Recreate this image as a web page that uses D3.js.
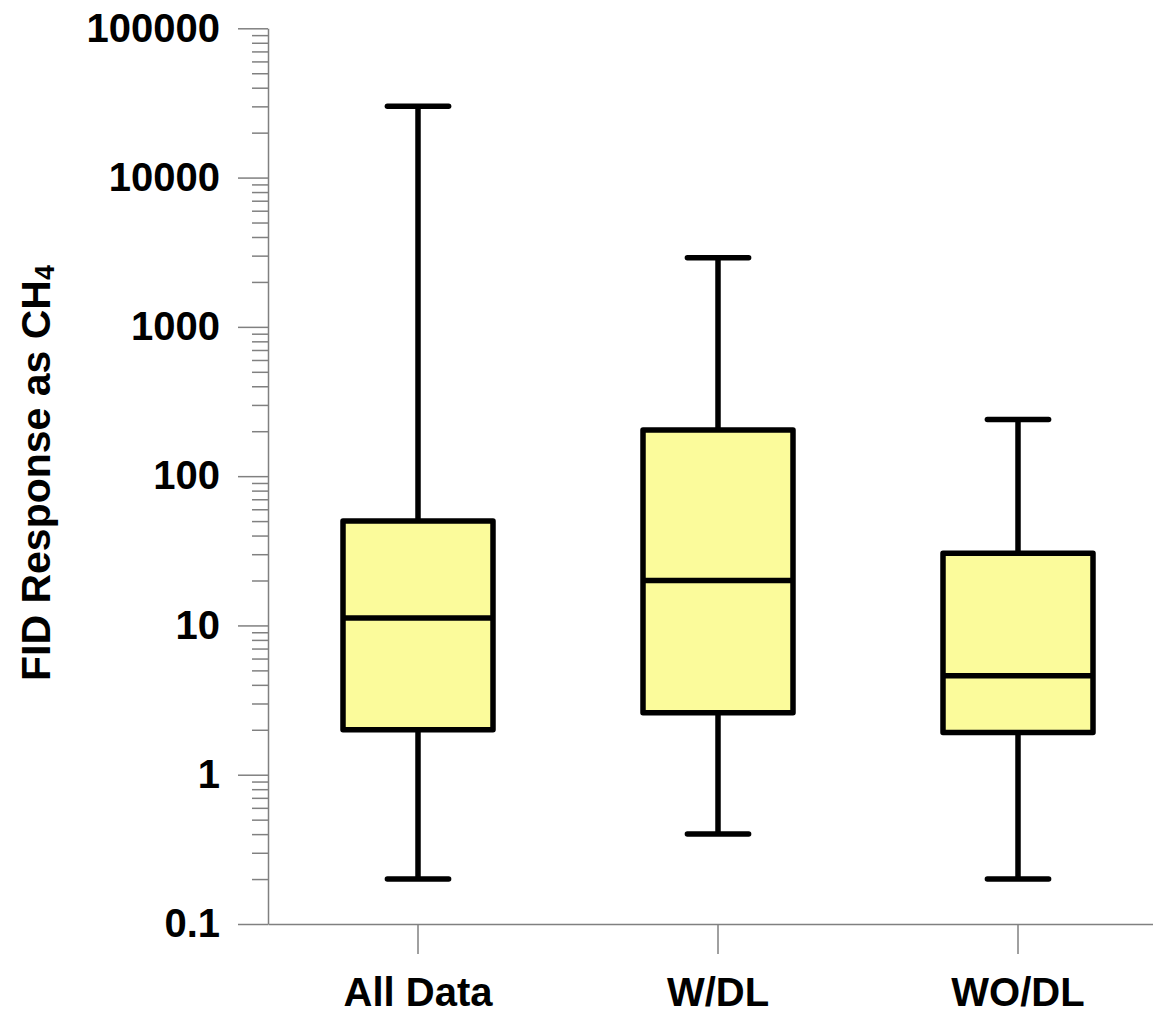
<!DOCTYPE html>
<html>
<head>
<meta charset="utf-8">
<script src="https://cdn.jsdelivr.net/npm/d3@7"></script>
<style>
  html, body { margin: 0; padding: 0; background: #ffffff; overflow: hidden; }
  svg { display: block; }
  text { font-family: "Liberation Sans", Arial, Helvetica, sans-serif; font-weight: bold; fill: #000; }
</style>
</head>
<body>
<svg id="chart" width="1153" height="1013"></svg>
<script>
// ---- data ----
const categories = ["All Data", "W/DL", "WO/DL"];
const whiskerMax = [30000, 2900, 240];
const q3Values = [50, 204, 30.5];
const medians = [11.2, 20, 4.6];
const q1Values = [2.0, 2.6, 1.92];
const whiskerMin = [0.2, 0.4, 0.2];
const yMajorTicks = [0.1, 1, 10, 100, 1000, 10000, 100000];
const yTickLabels = ["0.1", "1", "10", "100", "1000", "10000", "100000"];
const yTitle = "FID Response as CH";
const yTitleSub = "4";

const rows = categories.map((c, i) => ({
  cat: c, max: whiskerMax[i], q3: q3Values[i], med: medians[i], q1: q1Values[i], min: whiskerMin[i]
}));

// ---- layout ----
const svg = d3.select("#chart");
const axisColor = "#808080";
const y = d3.scaleLog().domain([0.1, 100000]).range([924, 28.3]);
const x = d3.scaleBand().domain(categories).range([268, 1168]).padding(0);
const bw = x.bandwidth();
const cx = d => x(d.cat) + bw / 2;

// minor ticks
const minorTicks = [];
for (let e = -1; e < 5; e++) {
  for (let m = 2; m <= 9; m++) minorTicks.push(m * Math.pow(10, e));
}

const gMinor = svg.append("g").attr("transform", "translate(268,0)")
  .call(d3.axisLeft(y).tickValues(minorTicks).tickSize(16).tickSizeOuter(0).tickFormat(""));
gMinor.select(".domain").remove();
gMinor.selectAll("line").attr("stroke", axisColor).attr("stroke-width", 1.5);

const gY = svg.append("g").attr("transform", "translate(268,0)")
  .call(d3.axisLeft(y).tickValues(yMajorTicks).tickSize(30).tickSizeOuter(0).tickPadding(18)
    .tickFormat((d, i) => yTickLabels[i]));
gY.select(".domain").attr("stroke", axisColor).attr("stroke-width", 1.5);
gY.selectAll("line").attr("stroke", axisColor).attr("stroke-width", 1.5);
gY.selectAll("text").attr("font-size", 40).attr("font-family", null).attr("fill", "#000");

const gX = svg.append("g").attr("transform", "translate(0,924)")
  .call(d3.axisBottom(x).tickSize(30).tickSizeOuter(0).tickPadding(24));
gX.select(".domain").attr("stroke", axisColor).attr("stroke-width", 1.5);
gX.selectAll("line").attr("stroke", axisColor).attr("stroke-width", 1.5);
gX.selectAll("text").attr("font-size", 40).attr("font-family", null).attr("fill", "#000");

// y title
const title = svg.append("text")
  .attr("transform", "translate(50,473) rotate(-90)")
  .attr("text-anchor", "middle")
  .attr("font-size", 41);
title.append("tspan").text(yTitle);
title.append("tspan").attr("font-size", 27).attr("dy", 4).text(yTitleSub);

// ---- boxes ----
const g = svg.append("g");
const boxes = g.selectAll("g.box").data(rows).enter().append("g").attr("class", "box");
const capHalf = bw * 0.102;
const boxHalf = bw * 0.25;
const sw = 5.5;

boxes.append("line")
  .attr("x1", cx).attr("x2", cx)
  .attr("y1", d => y(d.max)).attr("y2", d => y(d.q3))
  .attr("stroke", "#000").attr("stroke-width", sw);
boxes.append("line")
  .attr("x1", cx).attr("x2", cx)
  .attr("y1", d => y(d.q1)).attr("y2", d => y(d.min))
  .attr("stroke", "#000").attr("stroke-width", sw);
boxes.append("line")
  .attr("x1", d => cx(d) - capHalf).attr("x2", d => cx(d) + capHalf)
  .attr("y1", d => y(d.max)).attr("y2", d => y(d.max))
  .attr("stroke", "#000").attr("stroke-width", sw).attr("stroke-linecap", "round");
boxes.append("line")
  .attr("x1", d => cx(d) - capHalf).attr("x2", d => cx(d) + capHalf)
  .attr("y1", d => y(d.min)).attr("y2", d => y(d.min))
  .attr("stroke", "#000").attr("stroke-width", sw).attr("stroke-linecap", "round");
boxes.append("rect")
  .attr("x", d => cx(d) - boxHalf).attr("width", boxHalf * 2)
  .attr("y", d => y(d.q3)).attr("height", d => y(d.q1) - y(d.q3))
  .attr("fill", "#fbfb9b").attr("stroke", "#000").attr("stroke-width", sw)
  .attr("stroke-linejoin", "round");
boxes.append("line")
  .attr("x1", d => cx(d) - boxHalf).attr("x2", d => cx(d) + boxHalf)
  .attr("y1", d => y(d.med)).attr("y2", d => y(d.med))
  .attr("stroke", "#000").attr("stroke-width", sw);
</script>
</body>
</html>
